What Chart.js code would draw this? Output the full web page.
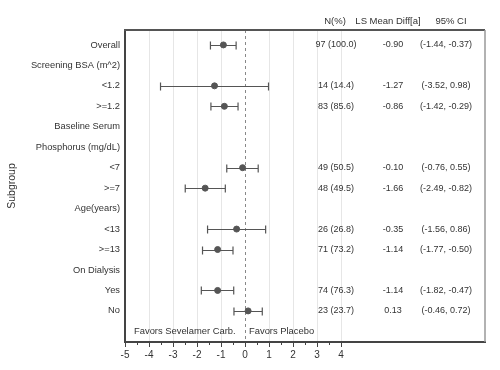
<!DOCTYPE html>
<html>
<head>
<meta charset="utf-8">
<script src="https://cdn.jsdelivr.net/npm/chart.js@4.4.1/dist/chart.umd.min.js"></script>
<style>
  html, body { margin: 0; padding: 0; background: #fff; }
  #wrap { width: 500px; height: 370px; }
</style>
</head>
<body>
<div id="wrap"><canvas id="forest" width="500" height="370"></canvas></div>
<script>
// subgroup rows, top to bottom
const rowLabels = ['Overall', 'Screening BSA (m^2)', '<1.2', '>=1.2', 'Baseline Serum',
  'Phosphorus (mg/dL)', '<7', '>=7', 'Age(years)', '<13', '>=13', 'On Dialysis', 'Yes', 'No'];
// LS mean difference and 95% CI (null = header row)
const lsMeanDiff = [-0.90, null, -1.27, -0.86, null, null, -0.10, -1.66, null, -0.35, -1.14, null, -1.14, 0.13];
const ciLower = [-1.44, null, -3.52, -1.42, null, null, -0.76, -2.49, null, -1.56, -1.77, null, -1.82, -0.46];
const ciUpper = [-0.37, null, 0.98, -0.29, null, null, 0.55, -0.82, null, 0.86, -0.50, null, -0.47, 0.72];
const nCount = [97, null, 14, 83, null, null, 49, 48, null, 26, 71, null, 74, 23];
const nPct = [100.0, null, 14.4, 85.6, null, null, 50.5, 49.5, null, 26.8, 73.2, null, 76.3, 23.7];
const xTickValues = [-5, -4, -3, -2, -1, 0, 1, 2, 3, 4];
const columnHeaders = ['N(%)', 'LS Mean Diff[a]', '95% CI'];
const favorsLeft = 'Favors Sevelamer Carb.';
const favorsRight = 'Favors Placebo';

const FONT = '"Liberation Sans", Arial, sans-serif';
const INK = '#444';

const points = [];
lsMeanDiff.forEach((v, i) => { if (v !== null) points.push({ x: v, y: i + 1 }); });

// error bars, reference line, frame and text columns
const forestPlugin = {
  id: 'forest',
  beforeDatasetsDraw(chart) {
    const { ctx, chartArea: a, scales: { x, y } } = chart;
    ctx.save();
    // dashed zero line
    ctx.strokeStyle = '#888';
    ctx.lineWidth = 1;
    ctx.setLineDash([3, 3]);
    const x0 = Math.round(x.getPixelForValue(0)) + 0.5;
    ctx.beginPath(); ctx.moveTo(x0, a.top); ctx.lineTo(x0, a.bottom); ctx.stroke();
    ctx.setLineDash([]);
    // CI whiskers
    ctx.strokeStyle = '#555';
    ctx.lineWidth = 1.2;
    lsMeanDiff.forEach((v, i) => {
      if (v === null) return;
      const py = Math.round(y.getPixelForValue(i + 1)) + 0.5;
      const xl = x.getPixelForValue(ciLower[i]);
      const xu = x.getPixelForValue(ciUpper[i]);
      ctx.beginPath();
      ctx.moveTo(xl, py); ctx.lineTo(xu, py);
      ctx.moveTo(xl, py - 4); ctx.lineTo(xl, py + 4);
      ctx.moveTo(xu, py - 4); ctx.lineTo(xu, py + 4);
      ctx.stroke();
    });
    ctx.restore();
  },
  afterDraw(chart) {
    const { ctx, chartArea: a, scales: { x, y } } = chart;
    ctx.save();
    // frame top / right
    ctx.strokeStyle = '#555';
    ctx.lineWidth = 2;
    ctx.beginPath(); ctx.moveTo(a.left - 1, a.top); ctx.lineTo(a.right, a.top); ctx.stroke();
    ctx.strokeStyle = '#999';
    ctx.lineWidth = 1.5;
    ctx.beginPath(); ctx.moveTo(a.right, a.top); ctx.lineTo(a.right, a.bottom); ctx.stroke();
    // minor ticks
    ctx.strokeStyle = INK;
    ctx.lineWidth = 1;
    for (let v = -4.5; v < 4; v += 1) {
      const px = Math.round(x.getPixelForValue(v)) + 0.5;
      ctx.beginPath(); ctx.moveTo(px, a.bottom); ctx.lineTo(px, a.bottom + 3); ctx.stroke();
    }
    // text columns
    ctx.fillStyle = '#333';
    ctx.textAlign = 'center';
    ctx.textBaseline = 'middle';
    ctx.font = '9.5px ' + FONT;
    const hdrX = [a.left + 210, a.left + 263, a.left + 326];
    columnHeaders.forEach((h, k) => ctx.fillText(h, hdrX[k], 21));
    ctx.font = '9px ' + FONT;
    const colX = [a.left + 211, a.left + 268, a.left + 321];
    lsMeanDiff.forEach((v, i) => {
      if (v === null) return;
      const py = y.getPixelForValue(i + 1);
      ctx.fillText(nCount[i] + ' (' + nPct[i].toFixed(1) + ')', colX[0], py);
      ctx.fillText(v.toFixed(2), colX[1], py);
      ctx.fillText('(' + ciLower[i].toFixed(2) + ', ' + ciUpper[i].toFixed(2) + ')', colX[2], py);
    });
    // favors labels
    ctx.font = '9.4px ' + FONT;
    const fy = y.getPixelForValue(15);
    ctx.textAlign = 'left';
    ctx.fillText(favorsLeft, a.left + 9, fy);
    ctx.fillText(favorsRight, x.getPixelForValue(0) + 4, fy);
    ctx.restore();
  }
};

new Chart(document.getElementById('forest'), {
  type: 'scatter',
  data: {
    datasets: [{
      data: points,
      backgroundColor: '#555',
      borderColor: '#555',
      pointRadius: 3,
      pointHoverRadius: 3
    }]
  },
  options: {
    responsive: false,
    animation: false,
    layout: { padding: { left: 0, right: 15, top: 30, bottom: 0 } },
    plugins: { legend: { display: false }, tooltip: { enabled: false } },
    scales: {
      x: {
        type: 'linear',
        min: -5,
        max: 10,
        afterBuildTicks: s => { s.ticks = xTickValues.map(v => ({ value: v })); },
        afterFit: s => { s.height = 28; },
        grid: {
          color: c => (c.tick && c.tick.value > -5 && c.tick.value !== 0) ? '#e6e6e6' : 'rgba(0,0,0,0)',
          tickColor: INK,
          tickLength: 5,
          drawOnChartArea: true
        },
        border: { color: INK, width: 2 },
        ticks: { color: '#333', font: { family: FONT, size: 10 }, padding: 2 }
      },
      y: {
        type: 'linear',
        reverse: true,
        min: 0.27,
        max: 15.52,
        afterBuildTicks: s => { s.ticks = rowLabels.map((_, i) => ({ value: i + 1 })); },
        afterFit: s => { s.width = 125; },
        grid: { display: false, drawTicks: false },
        border: { color: INK, width: 2 },
        ticks: {
          color: '#333',
          font: { family: FONT, size: 9.3 },
          padding: 5,
          callback: v => rowLabels[Math.round(v) - 1] || ''
        },
        title: {
          display: true,
          text: 'Subgroup',
          color: '#333',
          font: { family: FONT, size: 10.5 },
          padding: { top: 6, bottom: 0 }
        }
      }
    }
  },
  plugins: [forestPlugin]
});
</script>
</body>
</html>
